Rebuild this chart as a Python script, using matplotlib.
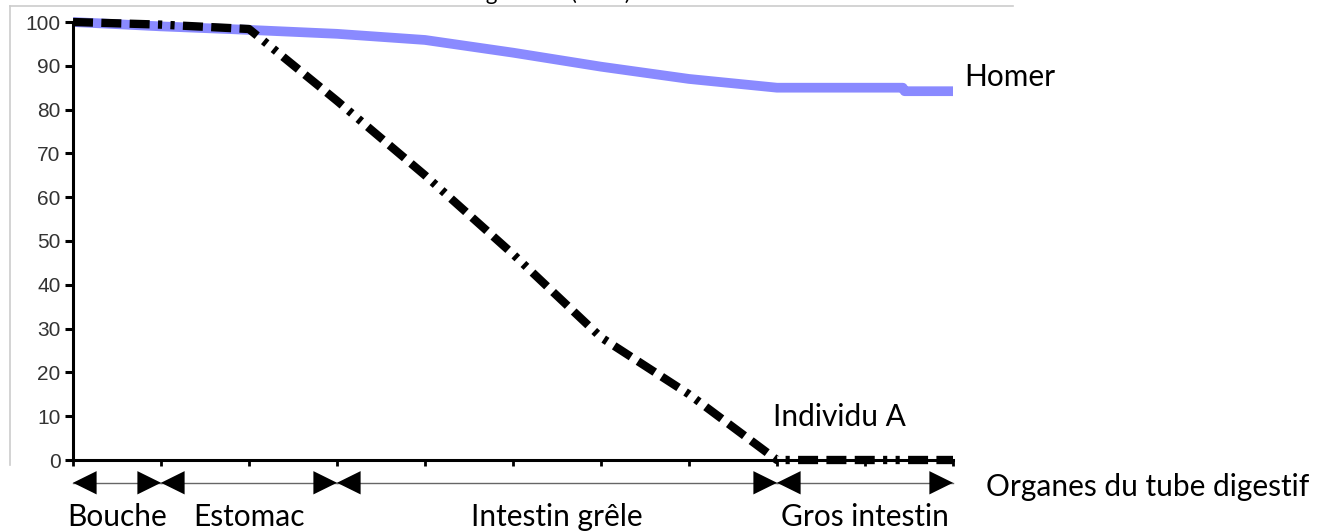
import matplotlib.pyplot as plt
from matplotlib.lines import Line2D

# Donnees (x : graduations le long du tube digestif, 0 a 10)
homer_x = [0, 1, 2, 3, 4, 5, 6, 7, 8, 9, 9.43, 9.45, 10]
homer_y = [100, 99, 98.2, 97.3, 95.9, 93.0, 89.8, 87.0, 85.0, 85.0, 85.0, 84.2, 84.2]

indiv_x = [0, 1, 2, 3, 4, 5, 6, 7, 8, 9, 10]
indiv_y = [100, 99.4, 98.4, 82, 65, 47, 28, 15, 0, 0, 0]

organes = ["Bouche", "Estomac", "Intestin grêle", "Gros intestin"]
organes_debut = [0, 1, 3, 8]
organes_fin = [1, 3, 8, 10]

W, H = 1335, 531
fig = plt.figure(figsize=(W / 100, H / 100), dpi=100)
ax = fig.add_axes([73 / W, 1 - 460 / H, 880 / W, 438 / H])

police = ["Lato", "DejaVu Sans"]
taille = 21.5

# courbes
ax.plot(homer_x, homer_y, color="#8a8aff", lw=7, clip_on=False,
        solid_capstyle="butt", zorder=2)
ax.plot(indiv_x, indiv_y, color="black", lw=6, clip_on=False,
        linestyle=(0, (2.4, 1.0, 2.4, 1.0, 2.4, 1.0, 0.5, 1.0, 0.5, 1.0)),
        zorder=3)

ax.set_xlim(0, 10)
ax.set_ylim(0, 100)
ax.set_xticks(range(0, 11))
ax.set_xticklabels([])
ax.set_yticks(range(0, 101, 10))
for s in ["top", "right"]:
    ax.spines[s].set_visible(False)
for s in ["left", "bottom"]:
    ax.spines[s].set_linewidth(2.2)
ax.tick_params(axis="y", direction="out", length=6, width=2.2, pad=3,
               labelsize=15, labelcolor="#333333")
ax.tick_params(axis="x", direction="out", length=4, width=2.0)
for t in ax.get_yticklabels():
    t.set_fontfamily("Liberation Sans")

# fleches des organes
y_fleche = -0.052
for nom, a, b in zip(organes, organes_debut, organes_fin):
    ax.plot([a, b], [y_fleche, y_fleche], transform=ax.get_xaxis_transform(),
            color="#666666", lw=1, clip_on=False)
    ax.annotate("", xy=(a, y_fleche), xytext=(b, y_fleche),
                xycoords=("data", "axes fraction"),
                textcoords=("data", "axes fraction"),
                arrowprops=dict(arrowstyle="<|-|>,head_length=0.85,head_width=0.42",
                                color="black", lw=0, shrinkA=0, shrinkB=0,
                                mutation_scale=20))
    ax.text((a + b) / 2, -0.13, nom, transform=ax.get_xaxis_transform(),
            ha="center", va="center", fontsize=taille, family=police)

ax.text(1.038, -0.062, "Organes du tube digestif", transform=ax.transAxes,
        ha="left", va="center", fontsize=taille, family=police)
ax.text(10.13, 87.5, "Homer", ha="left", va="center", fontsize=taille, family=police)
ax.text(7.95, 9.8, "Individu A", ha="left", va="center", fontsize=taille, family=police)

# cadre gris et titre coupe en haut
fig.add_artist(Line2D([10 / W, 1013 / W], [1 - 6 / H, 1 - 6 / H],
                      transform=fig.transFigure, color="#cccccc", lw=1.2))
fig.add_artist(Line2D([10 / W, 10 / W], [1 - 6 / H, 1 - 465 / H],
                      transform=fig.transFigure, color="#cccccc", lw=1.2))
fig.text(505 / W, 1.0, "Teneur en glucides (en %)", ha="center", va="baseline",
         fontsize=16, family=police)

fig.savefig("out.png", dpi=100)
